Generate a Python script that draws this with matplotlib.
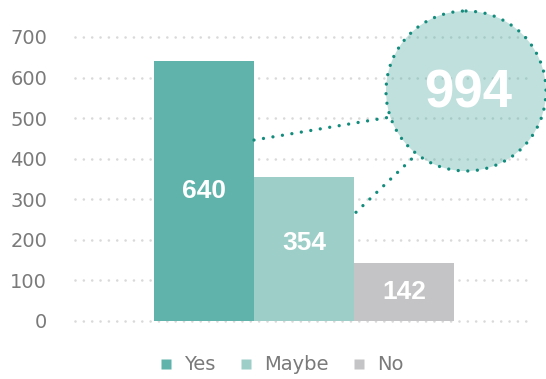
import numpy as np
import matplotlib
matplotlib.use("Agg")
import matplotlib.pyplot as plt
from matplotlib.patches import Circle
from matplotlib.lines import Line2D

plt.rcParams["lines.scale_dashes"] = False

# Survey answers
categories = ["Yes", "Maybe", "No"]
counts = [640, 354, 142]
y_ticks = [0, 100, 200, 300, 400, 500, 600, 700]
colors = ["#5fb3aa", "#9dcec8", "#c4c4c6"]
total = sum(counts[:2])  # Yes + Maybe

W, H, DPI = 546, 379, 100
fig = plt.figure(figsize=(W / DPI, H / DPI), dpi=DPI)

# main axes placed in pixel terms
L, R, B, T = 75, 530, 321, 37
ax = fig.add_axes([L / W, 1 - B / H, (R - L) / W, (B - T) / H])
x = np.arange(len(categories))
ax.set_xlim(-1.29, 3.26)
ax.set_ylim(0, 700)

dot_grid = (0, (0.01, 6.0))
for t in y_ticks:
    ax.axhline(t, color="#d9d9d9", lw=1.9, ls=dot_grid,
               dash_capstyle="round", zorder=0, clip_on=False)

ax.bar(x, counts, width=1.0, color=colors, zorder=2)
label_y = [v / 2 for v in counts]
label_y[1] += 15
for xi, v, ly in zip(x, counts, label_y):
    ax.text(xi, ly, str(v), ha="center", va="center", color="white",
            fontsize=19, fontweight="bold", family="Liberation Sans", zorder=3)

ax.set_yticks(y_ticks)
ax.set_yticklabels([str(t) for t in y_ticks], fontsize=14, color="#7a7a7a")
ax.tick_params(axis="y", length=0, pad=20)
ax.set_xticks([])
for s in ax.spines.values():
    s.set_visible(False)

# overlay in pixel coordinates for the total callout
ov = fig.add_axes([0, 0, 1, 1])
ov.set_xlim(0, W)
ov.set_ylim(H, 0)
ov.axis("off")

cx, cy, r = 466, 91, 80
teal = "#148c7d"
dot_callout = (0, (0.01, 6.9))
ov.add_patch(Circle((cx, cy), r, facecolor="#5fb3aa", alpha=0.4,
                    edgecolor="none", zorder=1))
ov.add_patch(Circle((cx, cy), r, facecolor="none", edgecolor=teal, lw=2.4,
                    ls=dot_callout, capstyle="round", zorder=2))
ov.text(cx + 2, cy + 2, str(total), ha="center", va="center", color="white",
        fontsize=38, fontweight="bold", family="Liberation Sans", zorder=3)


def to_px(px, py):
    disp = ax.transData.transform((px, py))
    return ov.transData.inverted().transform(disp)


starts = [(0.5, 446), (1.52, 268)]
angles = [199, 232]
for (sx, sy), a in zip(starts, angles):
    p0 = to_px(sx, sy)
    p1 = (cx + r * np.cos(np.radians(a)), cy - r * np.sin(np.radians(a)))
    ov.plot([p0[0], p1[0]], [p0[1], p1[1]], color=teal, lw=2.4,
            ls=dot_callout, dash_capstyle="round", zorder=2)

handles = [Line2D([], [], marker="s", ls="none", markersize=6.5,
                  markerfacecolor=c, markeredgecolor="none") for c in colors]
fig.legend(handles, categories, loc="center", ncol=3,
           bbox_to_anchor=(282 / W, 1 - 365 / H), frameon=False,
           fontsize=14, labelcolor="#7a7a7a", handlelength=0.6,
           handletextpad=0.6, columnspacing=1.3)

fig.savefig("out.png", dpi=DPI)
